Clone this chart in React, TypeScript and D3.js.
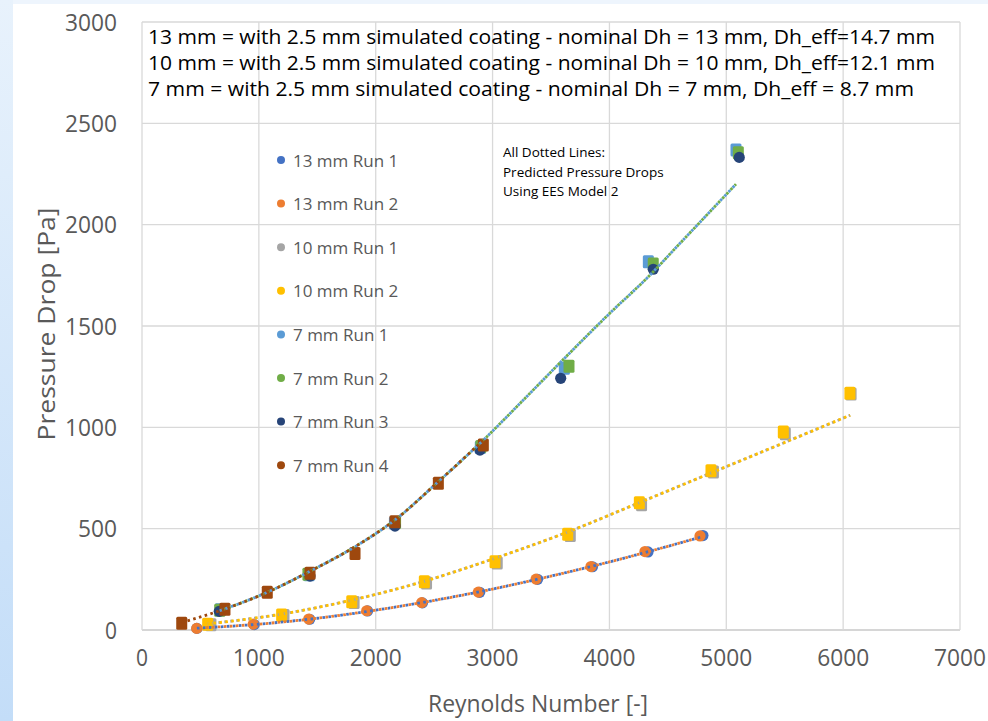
import * as d3 from 'd3';

// measured points [Reynolds, Pa]
const run13a = [[470, 8], [960, 27], [1435, 53], [1930, 94], [2400, 134], [2890, 186], [3385, 250], [3855, 312], [4330, 385], [4800, 466]];
const run13b = [[468, 8], [952, 29], [1427, 54], [1923, 95], [2393, 135], [2878, 187], [3372, 251], [3842, 313], [4304, 387], [4775, 464]];
const run10a = [[590, 26], [1215, 72], [1815, 136], [2435, 232], [3040, 330], [3665, 466], [4275, 618], [4890, 780], [5505, 968], [6068, 1164]];
const run10b = [[562, 28], [1195, 74], [1795, 139], [2416, 238], [3021, 337], [3643, 472], [4256, 628], [4869, 786], [5488, 977], [6058, 1168]];
const run7a = [[670, 100], [1430, 272], [2160, 528], [2895, 900], [3614, 1291], [4333, 1817], [5083, 2368]];
const run7b = [[665, 98], [1420, 275], [2170, 530], [2900, 905], [3654, 1302], [4375, 1806], [5103, 2355]];
const run7c = [[661, 92], [1438, 266], [2165, 513], [2892, 888], [3583, 1242], [4375, 1780], [5111, 2332]];
const run7d = [[340, 33], [710, 102], [1072, 186], [1438, 280], [1823, 378], [2165, 534], [2536, 724], [2921, 913]];

// predicted (EES Model 2)
const pred13 = [[470, 9], [1000, 29], [1500, 58], [2000, 98], [2500, 146], [3000, 202], [3500, 266], [4000, 336], [4500, 413], [4780, 458]];
const pred10 = [[560, 30], [1200, 79], [1800, 148], [2400, 238], [3000, 350], [3650, 485], [4250, 627], [4870, 775], [5490, 923], [6060, 1060]];
const pred7 = [[665, 95], [1072, 186], [1438, 290], [1823, 411], [2165, 543], [2536, 732], [2921, 937], [3320, 1168], [3614, 1340], [4005, 1564], [4333, 1743], [4604, 1908], [5083, 2200]];
const pred7d = [[340, 37], [665, 95], [1072, 186], [1438, 290], [1823, 411], [2165, 543], [2536, 732], [2921, 937]];

const xTicks = [0, 1000, 2000, 3000, 4000, 5000, 6000, 7000];
const yTicks = [0, 500, 1000, 1500, 2000, 2500, 3000];

const legendNames = ['13 mm Run 1', '13 mm Run 2', '10 mm Run 1', '10 mm Run 2', '7 mm Run 1', '7 mm Run 2', '7 mm Run 3', '7 mm Run 4'];
const colors = ['#4472C4', '#ED7D31', '#A5A5A5', '#FFC000', '#5B9BD5', '#70AD47', '#264478', '#9E480E'];

const noteLines = [
    '13 mm = with 2.5 mm simulated coating - nominal Dh = 13 mm, Dh_eff=14.7 mm',
    '10 mm = with 2.5 mm simulated coating - nominal Dh = 10 mm, Dh_eff=12.1 mm',
    '7 mm = with 2.5 mm simulated coating - nominal Dh = 7 mm, Dh_eff = 8.7 mm',
];
const noteWidths = [787, 787, 766];
const modelLines = ['All Dotted Lines:', 'Predicted Pressure Drops', 'Using EES Model 2'];

const font = '"Open Sans", "Liberation Sans", sans-serif';

function App() {
    const x = d3.scaleLinear().domain([0, 7000]).range([142, 960]);
    const y = d3.scaleLinear().domain([0, 3000]).range([630, 22]);
    const line = d3.line<number[]>()
        .x(d => x(d[0]))
        .y(d => y(d[1]))
        .curve(d3.curveMonotoneX);

    const series = [
        { data: run13a, color: colors[0], shape: 'circle' },
        { data: run13b, color: colors[1], shape: 'circle' },
        { data: run10a, color: colors[2], shape: 'square' },
        { data: run10b, color: colors[3], shape: 'square' },
        { data: run7a, color: colors[4], shape: 'square' },
        { data: run7b, color: colors[5], shape: 'square' },
        { data: run7c, color: colors[6], shape: 'circle' },
        { data: run7d, color: colors[7], shape: 'square' },
    ];

    // dotted prediction lines
    const dotted = [
        { data: pred13, color: colors[0], offset: 0 },
        { data: pred13, color: colors[1], offset: 3 },
        { data: pred10, color: colors[2], offset: 1 },
        { data: pred10, color: colors[3], offset: 0 },
        { data: pred7, color: colors[4], offset: 0 },
        { data: pred7, color: colors[5], offset: 3 },
        { data: pred7d, color: colors[7], offset: 0 },
    ];

    return (
        <svg width={988} height={721} style={{ position: 'absolute', left: 0, top: 0 }}>
            <defs>
                <linearGradient id="side" x1="0" y1="0" x2="0" y2="1">
                    <stop offset="0" stopColor="#e8f2fc" />
                    <stop offset="1" stopColor="#c3ddf8" />
                </linearGradient>
            </defs>
            <rect x={0} y={0} width={988} height={721} fill="url(#side)" />
            <rect x={13} y={0} width={975} height={4} fill="#eef5fd" />
            <rect x={13} y={4} width={975} height={717} fill="#ffffff" />

            {/* grid */}
            {yTicks.map(t => (
                <line key={'gy' + t} x1={x(0)} x2={x(7000)} y1={y(t)} y2={y(t)}
                    stroke={t === 0 ? '#c8c8c8' : '#d9d9d9'} strokeWidth={1.3} />
            ))}
            {xTicks.map(t => (
                <line key={'gx' + t} x1={x(t)} x2={x(t)} y1={y(0)} y2={y(3000)} stroke="#d9d9d9" strokeWidth={1.3} />
            ))}

            {/* tick labels */}
            {yTicks.map(t => (
                <text key={'ty' + t} x={117} y={y(t) + 8.5} textAnchor="end" fontFamily={font} fontSize={23}
                    fill="#595959" textLength={t === 0 ? 12 : t < 1000 ? 39 : 52} lengthAdjust="spacingAndGlyphs">{t}</text>
            ))}
            {xTicks.map(t => (
                <text key={'tx' + t} x={x(t)} y={666} textAnchor="middle" fontFamily={font} fontSize={23}
                    fill="#595959" textLength={t === 0 ? 12 : 52} lengthAdjust="spacingAndGlyphs">{t}</text>
            ))}

            {/* axis titles */}
            <text x={538} y={712} textAnchor="middle" fontFamily={font} fontSize={23} fill="#595959"
                textLength={220} lengthAdjust="spacingAndGlyphs">Reynolds Number [-]</text>
            <text transform={`translate(55,324) rotate(-90)`} textAnchor="middle" fontFamily={font} fontSize={23} fill="#595959"
                textLength={233} lengthAdjust="spacingAndGlyphs">Pressure Drop [Pa]</text>

            {/* markers */}
            {series.map((s, i) => (
                <g key={'s' + i} fill={s.color}>
                    {s.data.map((d, j) => s.shape === 'circle'
                        ? <circle key={j} cx={x(d[0])} cy={y(d[1])} r={5.6} />
                        : <rect key={j} x={x(d[0]) - 5.5} y={y(d[1]) - 6.5} width={11} height={13} rx={1.5} />
                    )}
                </g>
            ))}

            {/* predicted dotted lines */}
            {dotted.map((l, i) => (
                <path key={'p' + i} d={line(l.data) || ''} fill="none" stroke={l.color} strokeWidth={2.8}
                    strokeDasharray="2.6 3.4" strokeDashoffset={l.offset} />
            ))}

            {/* notes */}
            {noteLines.map((t, i) => (
                <text key={'n' + i} x={148} y={44 + i * 26} fontFamily={font} fontSize={20} fill="#000"
                    textLength={noteWidths[i]} lengthAdjust="spacingAndGlyphs">{t}</text>
            ))}
            {modelLines.map((t, i) => (
                <text key={'m' + i} x={503} y={157 + i * 19.5} fontFamily={font} fontSize={13.5} fill="#000">{t}</text>
            ))}

            {/* legend */}
            {legendNames.map((n, i) => (
                <g key={'l' + i} transform={`translate(281,${160 + i * 43.6})`}>
                    <circle cx={0} cy={0} r={4} fill={colors[i]} />
                    <text x={12} y={6.5} fontFamily={font} fontSize={17} fill="#595959">{n}</text>
                </g>
            ))}
        </svg>
    );
}

export default App;
